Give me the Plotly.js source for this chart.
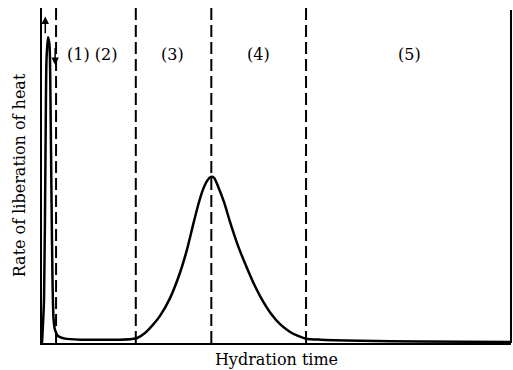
<!DOCTYPE html>
<html>
<head>
<meta charset="utf-8">
<script src="https://cdn.plot.ly/plotly-3.0.1.min.js"></script>
<style>html,body{margin:0;padding:0;background:#fff;}#chart{width:513px;height:370px;}</style>
</head>
<body>
<div id="chart"></div>
<script>
// Hydration time (arbitrary units, 0-100)
const hydrationTime = [0, 0.43, 0.75, 0.96, 1.28, 1.60, 1.81, 2.03, 2.24, 2.45, 2.77, 3.41, 4.90, 8.10, 12.37, 16.6, 19.2, 20.3, 21.96, 23.45, 25.16, 27.3, 29.4, 30.9, 32.2, 33.3, 34.3, 35.2, 36.0, 36.7, 37.5, 38.8, 40.1, 41.8, 43.7, 45.4, 47.1, 49.0, 50.7, 52.9, 54.6, 56.3, 59.3, 67.8, 80.6, 100];
// Rate of liberation of heat (arbitrary units, 0-100)
const heatRate = [0, 12.8, 57.6, 84.5, 91.3, 89, 72.5, 42.7, 18.8, 7.5, 3.9, 2.1, 1.3, 1.0, 1.0, 1.0, 1.2, 1.5, 3.0, 5.1, 8.1, 13.4, 20.9, 27.8, 35.2, 41.2, 45.7, 48.4, 49.6, 49.3, 46.9, 42.1, 36.1, 29.0, 22.4, 17.0, 12.5, 8.4, 5.7, 3.3, 2.1, 1.3, 1.0, 0.7, 0.45, 0.3];
// Stage boundaries
const stageBounds = [3.0, 20.0, 36.1, 56.3];
// Stage labels
const stageLabels = ["(1) (2)", "(3)", "(4)", "(5)"];
const stageLabelX = [10.6, 27.9, 46.1, 78.3];
const stageLabelY = 86;

const FONT = "DejaVu Serif, Liberation Serif, serif";

const shapes = stageBounds.map(x => ({
  type: "line", xref: "x", yref: "paper", x0: x, x1: x, y0: 0, y1: 1,
  line: {color: "#000", width: 2, dash: "12px,5px"}
}));
shapes.push({type: "line", xref: "paper", yref: "paper", x0: 1, x1: 1, y0: 0, y1: 0.994,
  line: {color: "#000", width: 2}});

const annotations = stageLabels.map((t, i) => ({
  x: stageLabelX[i], y: stageLabelY, xref: "x", yref: "y", text: t, showarrow: false,
  font: {family: FONT, size: 16, color: "#000"}
}));
annotations.push({x: 0.7, y: 97.5, xref: "x", yref: "y", ax: 0.7, ay: 92, axref: "x", ayref: "y",
  showarrow: true, arrowhead: 2, arrowsize: 1, arrowwidth: 1.5, arrowcolor: "#000", text: ""});
annotations.push({x: 2.8, y: 83, xref: "x", yref: "y", ax: 2.8, ay: 88.5, axref: "x", ayref: "y",
  showarrow: true, arrowhead: 2, arrowsize: 1, arrowwidth: 1.5, arrowcolor: "#000", text: ""});

Plotly.newPlot("chart", [{
  x: hydrationTime, y: heatRate, type: "scatter", mode: "lines",
  line: {color: "#000", width: 2.5, shape: "spline", smoothing: 0.6},
  hoverinfo: "skip"
}], {
  width: 513, height: 370,
  margin: {l: 42, r: 2, t: 8, b: 27},
  paper_bgcolor: "#fff", plot_bgcolor: "#fff",
  showlegend: false,
  xaxis: {range: [0, 100], showgrid: false, zeroline: false, showticklabels: false, ticks: "",
    showline: true, linecolor: "#000", linewidth: 2,
    title: {text: "Hydration time", font: {family: FONT, size: 16, color: "#000"}, standoff: 10}},
  yaxis: {range: [0, 100], showgrid: false, zeroline: false, showticklabels: false, ticks: "",
    showline: true, linecolor: "#000", linewidth: 2,
    title: {text: "Rate of liberation of heat", font: {family: FONT, size: 16, color: "#000"}, standoff: 10}},
  shapes: shapes,
  annotations: annotations
}, {staticPlot: true});
</script>
</body>
</html>
